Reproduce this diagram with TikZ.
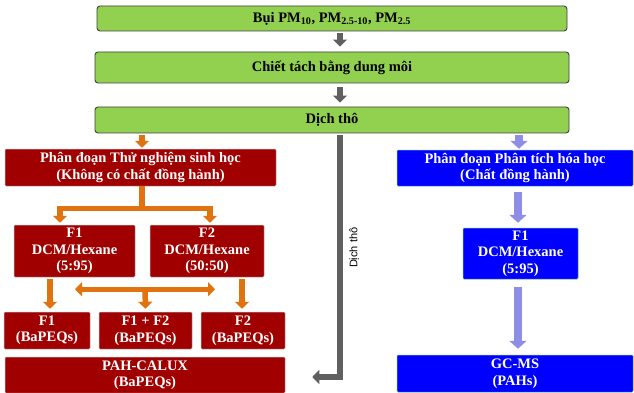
\documentclass[tikz,border=0pt]{standalone}
\usepackage{fontspec}
\setmainfont{Liberation Serif}
\newfontfamily\labelfont{Liberation Sans}
\usetikzlibrary{arrows.meta,calc}
\definecolor{gfill}{HTML}{92D050}
\definecolor{rfill}{HTML}{A00000}
\definecolor{bfill}{HTML}{0000FF}
\definecolor{ocol}{HTML}{E0730F}
\definecolor{lcol}{HTML}{8E8EE6}
\definecolor{gcol}{HTML}{606060}
\tikzset{
  x=1pt, y=-1pt,
  boxtext/.style={font=\bfseries\fontsize{14.5}{16.5}\selectfont, align=center, inner sep=1pt},
  greenbox/.style={boxtext, fill=gfill, draw=black!75, line width=0.9pt, rounded corners=3pt, text=black},
  redbox/.style={boxtext, fill=rfill, draw=gray!55, line width=0.5pt, rounded corners=1pt, text=white},
  bluebox/.style={boxtext, fill=bfill, draw=teal!60, line width=0.5pt, rounded corners=1pt, text=white},
  garrow/.style={draw=gcol, line width=6pt, -{Triangle[length=7pt,width=14pt]}},
  oarrow/.style={draw=ocol, line width=5.5pt, -{Triangle[length=7pt,width=14pt]}},
  oline/.style={draw=ocol, line width=5.5pt},
  odarrow/.style={draw=ocol, line width=5.5pt, {Triangle[length=7pt,width=14pt]}-{Triangle[length=7pt,width=14pt]}},
  larrow/.style={draw=lcol, line width=8pt, -{Triangle[length=8pt,width=17pt]}},
  sidelabel/.style={font=\labelfont\fontsize{11}{11}\selectfont, text=black},
}
\begin{document}
\begin{tikzpicture}
\useasboundingbox (0,0) rectangle (634,393);
\fill[white] (0,0) rectangle (634,393);

% green boxes
\node[greenbox, minimum width=470pt, minimum height=25pt] (b1) at (332,18.5)
  {Bụi PM\textsubscript{10}, PM\textsubscript{2.5-10}, PM\textsubscript{2.5}};
\node[greenbox, minimum width=474pt, minimum height=31pt] (b2) at (332,67.5)
  {Chiết tách bằng dung môi};
\node[greenbox, minimum width=474pt, minimum height=26pt] (b3) at (332,120)
  {Dịch thô};

% red boxes
\node[redbox, minimum width=271pt, minimum height=37pt] (rA) at (140.5,167.5)
  {Phân đoạn Thử nghiệm sinh học\\(Không có chất đồng hành)};
\node[redbox, minimum width=121pt, minimum height=52pt] (rF1) at (74.5,251)
  {F1\\DCM/Hexane\\(5:95)};
\node[redbox, minimum width=114pt, minimum height=52pt] (rF2) at (207,251)
  {F2\\DCM/Hexane\\(50:50)};
\node[redbox, minimum width=86pt, minimum height=37pt] (r1) at (47,330.5)
  {F1\\(BaPEQs)};
\node[redbox, minimum width=93pt, minimum height=37pt] (r12) at (145.5,330.5)
  {F1 + F2\\(BaPEQs)};
\node[redbox, minimum width=84pt, minimum height=37pt] (r2) at (243,330.5)
  {F2\\(BaPEQs)};
\node[redbox, minimum width=280pt, minimum height=36pt] (rP) at (145,375)
  {PAH-CALUX\\(BaPEQs)};

% blue boxes
\node[bluebox, minimum width=236pt, minimum height=36pt] (bB) at (515,168)
  {Phân đoạn Phân tích hóa học\\(Chất đồng hành)};
\node[bluebox, minimum width=115pt, minimum height=51pt] (bF1) at (520.5,253.5)
  {F1\\DCM/Hexane\\(5:95)};
\node[bluebox, minimum width=236pt, minimum height=37pt] (bG) at (515,373.5)
  {GC-MS\\(PAHs)};

% gray arrows
\draw[garrow] ($(b1.south)+(8,2)$) -- ($(b2.north)+(8,-5)$);
\draw[garrow] ($(b2.south)+(8,4)$) -- ($(b3.north)+(8,-4)$);
\coordinate (gs) at ($(b3.south)+(8,2)$);
\coordinate (ge) at ($(rP.east)+(27,2)$);
\draw[garrow, line join=miter] (gs) |- node[pos=0.2325, right=3pt, rotate=90, anchor=north, sidelabel] {Dịch thô} (ge);

% orange arrows
\draw[oarrow] ($(rA.north)+(1.5,-14)$) -- ($(rA.north)+(1.5,-1)$);
\coordinate (oj) at ($(rA.south)+(1.5,22)$);
\draw[oline] ($(rA.south)+(1.5,0)$) -- (oj);
\draw[oarrow, line join=miter] (oj) -| ($(rF1.north)+(-14.5,-2)$);
\draw[oarrow, line join=miter] (oj) -| ($(rF2.north)+(3,-2)$);
\draw[oarrow] ($(rF1.south)+(-24.5,2)$) -- ($(r1.north)+(3,-3)$);
\draw[oarrow] ($(rF2.south)+(35,2)$) -- ($(r2.north)+(-1,-3)$);
\coordinate (dl) at ($(rF1.south)+(0.5,12)$);
\coordinate (dr) at ($(rF2.south)+(8,12)$);
\draw[odarrow] (dl) -- (dr);
\draw[oarrow] ($(dl)!0.5!(dr)$) -- ($(r12.north)+(0,-3)$);

% lavender arrows
\draw[larrow] ($(bB.north)+(4,-15)$) -- ($(bB.north)+(4,-1)$);
\draw[larrow] ($(bB.south)+(3,6)$) -- ($(bF1.north)+(-2.5,-5)$);
\draw[larrow] ($(bF1.south)+(-2.5,8)$) -- ($(bG.north)+(3,-6)$);
\end{tikzpicture}
\end{document}
